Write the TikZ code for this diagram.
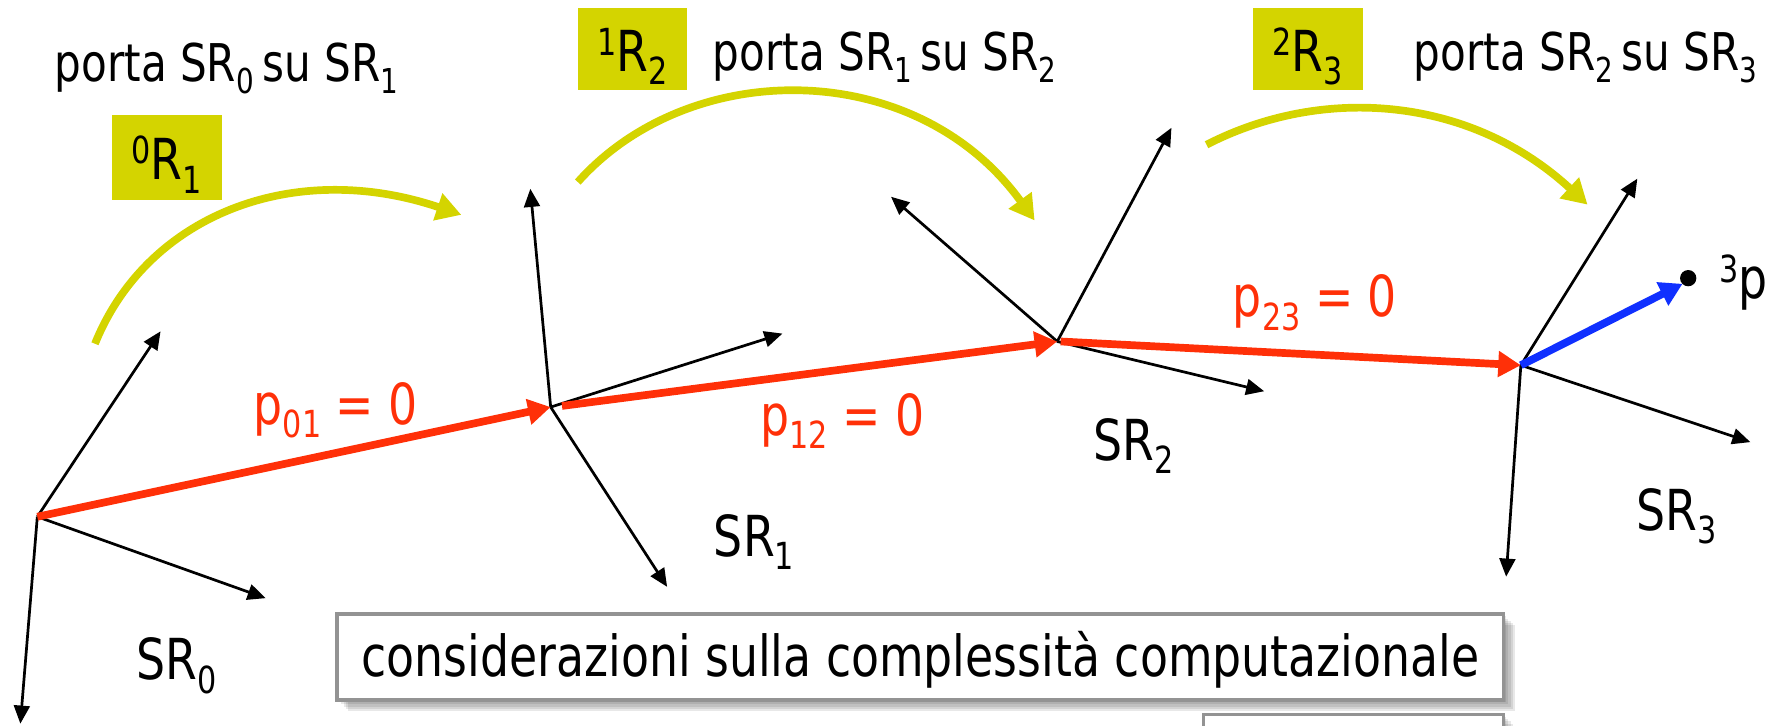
\documentclass[tikz,border=0pt]{standalone}
\usepackage{fontspec}
\setmainfont[FakeStretch=0.90]{DejaVu Sans Condensed}
\usetikzlibrary{arrows.meta,shadows,calc}
\definecolor{olivey}{RGB}{212,212,0}
\definecolor{redp}{RGB}{255,48,8}
\definecolor{bluep}{RGB}{16,48,255}
\tikzset{
 axis/.style={draw=black,line width=1.2pt,-{Triangle[length=8pt,width=7pt]}},
 redvec/.style={draw=redp,line width=3.4pt,-{Triangle[length=10pt,width=11pt]}},
 bluevec/.style={draw=bluep,line width=3.4pt,-{Triangle[length=10pt,width=11pt]}},
 rot/.style={draw=olivey,line width=3.4pt,-{Triangle[length=11pt,width=12pt]}},
 lab/.style={anchor=base west,inner sep=0pt,font=\fontsize{23}{27}\selectfont},
 biglab/.style={anchor=base west,inner sep=0pt,font=\fontsize{25}{29}\selectfont},
 redlab/.style={biglab,text=redp},
 ytext/.style={anchor=base,inner sep=0pt,font=\fontsize{25}{29}\selectfont},
 note/.style={fill=white,draw=gray!85,line width=1.4pt},
 noteshadow/.style={fill=black,opacity=0.09,draw=none},
}
\newcommand{\sbs}[1]{\raisebox{-.24em}{\scalebox{.66}{#1}}}
\newcommand{\sps}[1]{\raisebox{.28em}{\scalebox{.66}{#1}}}
\begin{document}
\begin{tikzpicture}[x=0.5pt,y=-0.5pt]
\useasboundingbox (0,0) rectangle (1568,642);
% origins
\coordinate (o0) at (33,457);
\coordinate (o1) at (487,360);
\coordinate (o2) at (935,302);
\coordinate (o3) at (1345,323);
% axis tips
\coordinate (a0x) at (142,293); \coordinate (a0y) at (235,529); \coordinate (a0z) at (18,640);
\coordinate (a1x) at (469,167); \coordinate (a1y) at (692,295); \coordinate (a1z) at (590,519);
\coordinate (a2x) at (1036,113); \coordinate (a2y) at (788,174); \coordinate (a2z) at (1118,346);
\coordinate (a3x) at (1448,158); \coordinate (a3y) at (1548,391); \coordinate (a3z) at (1332,510);
\foreach \o/\t in {o0/a0x,o0/a0y,o0/a0z,o1/a1x,o1/a1y,o1/a1z,o2/a2x,o2/a2y,o2/a2z,o3/a3x,o3/a3y,o3/a3z}
  \draw[axis] (\o) -- (\t);
% vectors
\draw[redvec] (o0) -- (o1);
\coordinate (r1s) at (497,359);
\draw[redvec] (r1s) -- (o2);
\coordinate (r2s) at (938,302);
\draw[redvec] (r2s) -- (o3);
\fill[black] (1493,246) circle (3.6pt);
\coordinate (ptn) at (1488,251);
\draw[bluevec] (o3) -- (ptn);
% rotations
\coordinate (c0a) at (84,304); \coordinate (c0b) at (408,190);
\coordinate (c1a) at (511,161); \coordinate (c1b) at (915,195);
\coordinate (c2a) at (1067,128); \coordinate (c2b) at (1404,181);
\draw[rot] (c0a) .. controls (130,190) and (260,140) .. (c0b);
\draw[rot] (c1a) .. controls (610,50) and (810,50) .. (c1b);
\draw[rot] (c2a) .. controls (1170,75) and (1300,85) .. (c2b);
% boxes
\fill[olivey] (99,102) rectangle (196,177);
\fill[olivey] (511,7) rectangle (608,80);
\fill[olivey] (1108,7) rectangle (1205,80);
\node[ytext] (b0) at (147.5,159) {\sps{0}R\sbs{1}};
\node[ytext] (b1) at (559.5,63) {\sps{1}R\sbs{2}};
\node[ytext] (b2) at (1156.5,63) {\sps{2}R\sbs{3}};
% texts
\node[lab] (t0) at (48,72) {porta SR\sbs{0}\,su SR\sbs{1}};
\node[lab] (t1) at (630,62) {porta SR\sbs{1}\,su SR\sbs{2}};
\node[lab] (t2) at (1250,62) {porta SR\sbs{2}\,su SR\sbs{3}};
\node[redlab] (p01) at (224,375) {p\sbs{01} = 0};
\node[redlab] (p12) at (672,385) {p\sbs{12} = 0};
\node[redlab] (p23) at (1090,280) {p\sbs{23} = 0};
\node[biglab] (s0) at (120,601) {SR\sbs{0}};
\node[biglab] (s1) at (631,492) {SR\sbs{1}};
\node[biglab] (s2) at (967,407) {SR\sbs{2}};
\node[biglab] (s3) at (1447,469) {SR\sbs{3}};
\node[biglab] (pl) at (1520,264) {\sps{3}p};
% notes
\begin{scope}
\clip (0,0) rectangle (1568,642);
\foreach \d in {2,4,6,8,10}{
  \path[noteshadow] (1064+\d,632+\d) rectangle (1330+\d,700);
  \path[noteshadow] (298+\d,543+\d) rectangle (1330+\d,619+\d);
}
\path[note] (1064,632) rectangle (1330,700);
\path[note] (298,543) rectangle (1330,619);
\end{scope}
\node[biglab,anchor=base] (cc) at (814,598) {considerazioni sulla complessità computazionale};
\end{tikzpicture}
\end{document}
